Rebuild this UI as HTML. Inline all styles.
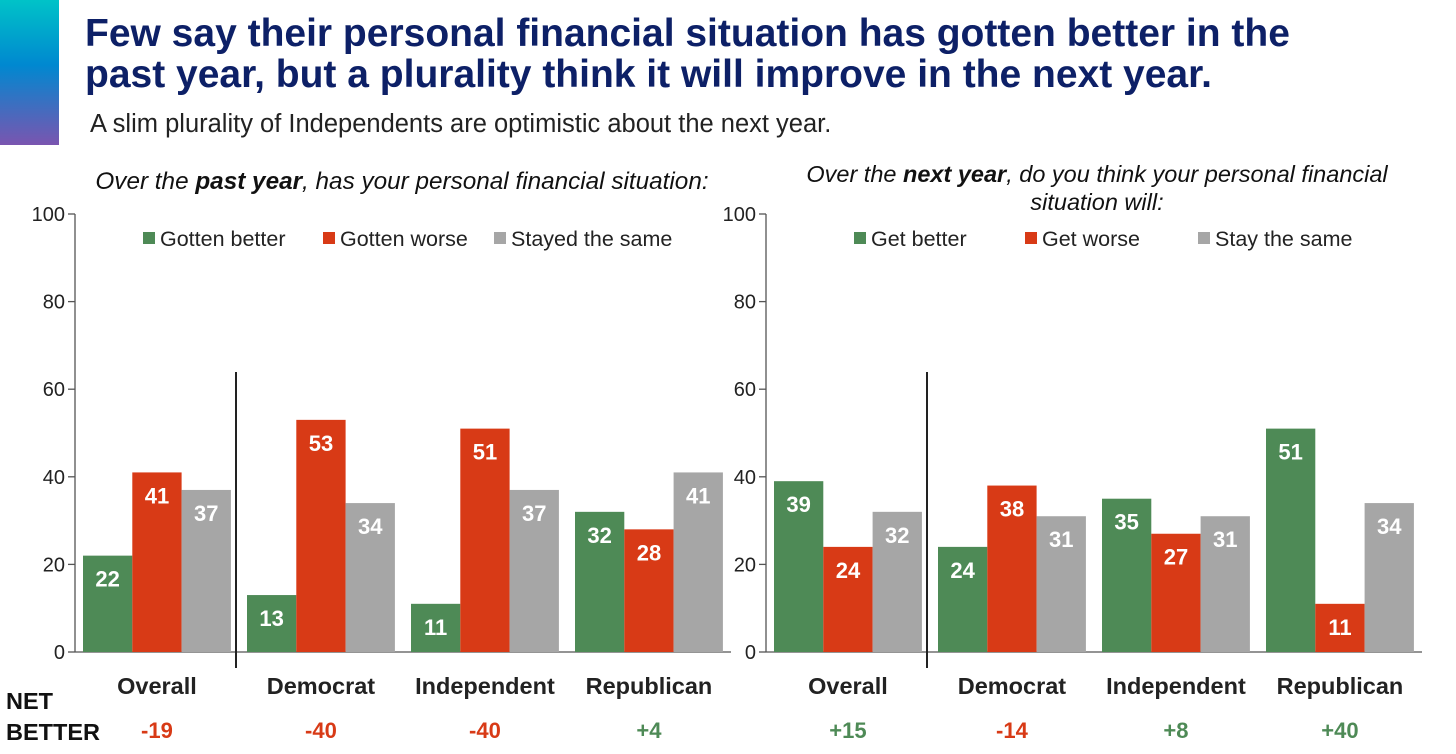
<!DOCTYPE html>
<html><head><meta charset="utf-8"><style>
body{margin:0;width:1456px;height:754px;background:#fff;overflow:hidden;font-family:"Liberation Sans",Arial,sans-serif;position:relative}
.bar-grad{position:absolute;left:0;top:0;width:59px;height:145px;background:linear-gradient(#00c3c8,#0088d0 45%,#7a55b0)}
h1{position:absolute;left:85px;top:13px;margin:0;font-size:39px;line-height:41px;color:#0d2067;font-weight:bold;white-space:nowrap}
.sub{position:absolute;left:90px;top:110px;font-size:25.5px;color:#222;white-space:nowrap}
svg{position:absolute;left:0;top:0}
</style></head><body>
<div class="bar-grad"></div>
<h1>Few say their personal financial situation has gotten better in the<br>past year, but a plurality think it will improve in the next year.</h1>
<div class="sub">A slim plurality of Independents are optimistic about the next year.</div>
<svg id="c" width="1456" height="754"></svg>
<script>
const categories=["Overall","Democrat","Independent","Republican"];
const pastBetter=[22,13,11,32];
const pastWorse=[41,53,51,28];
const pastSame=[37,34,37,41];
const nextBetter=[39,24,35,51];
const nextWorse=[24,38,27,11];
const nextSame=[32,31,31,34];
const pastNet=["-19","-40","-40","+4"];
const nextNet=["+15","-14","+8","+40"];
const yTicks=[0,20,40,60,80,100];
const pastLegend=["Gotten better","Gotten worse","Stayed the same"];
const nextLegend=["Get better","Get worse","Stay the same"];
const colors=["#4e8a56","#d83a16","#a6a6a6"];
const NS="http://www.w3.org/2000/svg";
const svg=document.getElementById('c');
function mk(t,a,txt){const e=document.createElementNS(NS,t);for(const k in a)e.setAttribute(k,a[k]);if(txt!=null)e.textContent=txt;svg.appendChild(e);return e;}
const y0=652,pxu=4.38;
function yS(v){return y0-v*pxu;}
function chart(ax,sepX,series,legend,net,legX,pfx){
  const gw=164,bw=49.3,pad=8;
  mk('line',{x1:ax,y1:214,x2:ax,y2:y0,stroke:'#555','stroke-width':1.3});
  mk('line',{x1:ax,y1:y0,x2:ax+gw*4,y2:y0,stroke:'#555','stroke-width':1.3});
  yTicks.forEach(t=>{
    const l=mk('line',{x1:ax-7,y1:yS(t),x2:ax,y2:yS(t),stroke:'#555','stroke-width':1.3});
    
    
    const tx=mk('text',{x:ax-10,y:yS(t)+7,'text-anchor':'end','font-size':20,fill:'#222'},t);
    
    
  });
  mk('line',{x1:sepX,y1:372,x2:sepX,y2:668,stroke:'#222','stroke-width':2});
  categories.forEach((c,i)=>{
    const gx=ax+i*gw+pad;
    series.forEach((s,j)=>{
      const x=gx+j*bw,v=s[i];
      const r=mk('rect',{x:x,y:yS(v),width:bw,height:v*pxu,fill:colors[j]});
      
      
      const t=mk('text',{x:x+bw/2,y:yS(v)+(v*pxu>40?31:-6),'text-anchor':'middle','font-size':22,'font-weight':'bold',fill:'#fff'},v);
      
      
    });
    const cx=gx+bw*1.5;
    const cl=mk('text',{x:cx,y:694,'text-anchor':'middle','font-size':23.5,'font-weight':'bold',fill:'#222'},c);
    
    
    const n=mk('text',{x:cx,y:738,'text-anchor':'middle','font-size':22,'font-weight':'bold',fill:net[i][0]=='-'?'#d83a16':'#4e8a56'},net[i]);
    
    
  });
  legend.forEach((l,j)=>{
    const x=legX[j];
    const r=mk('rect',{x:x,y:232,width:12,height:12,fill:colors[j]});
    
    
    const t=mk('text',{x:x+17,y:246,'font-size':21.5,fill:'#222'},l);
    
    
  });
}
chart(75,236,[pastBetter,pastWorse,pastSame],pastLegend,pastNet,[143,323,494],'past');
chart(766,927,[nextBetter,nextWorse,nextSame],nextLegend,nextNet,[854,1025,1198],'next');
let t;
t=mk('text',{x:402,y:189,'text-anchor':'middle','font-size':24.3,'font-style':'italic',fill:'#111'});
t.innerHTML='Over the <tspan font-weight="bold">past year</tspan>, has your personal financial situation:';


t=mk('text',{x:1097,y:182,'text-anchor':'middle','font-size':23.5,'font-style':'italic',fill:'#111'});
t.innerHTML='Over the <tspan font-weight="bold">next year</tspan>, do you think your personal financial';


t=mk('text',{x:1097,y:210,'text-anchor':'middle','font-size':23.5,'font-style':'italic',fill:'#111'},'situation will:');


t=mk('text',{x:6,y:709,'font-size':23.5,'font-weight':'bold',fill:'#111'},'NET');


t=mk('text',{x:6,y:740,'font-size':23.5,'font-weight':'bold',fill:'#111'},'BETTER');


</script>
</body></html>
